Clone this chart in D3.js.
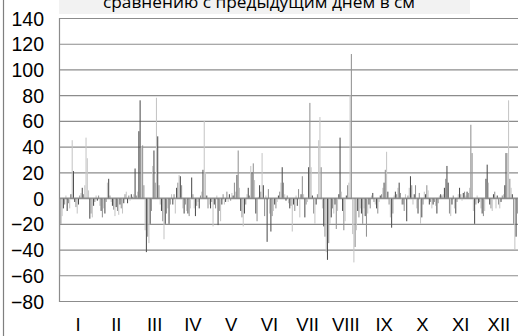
<!DOCTYPE html>
<html><head><meta charset="utf-8">
<script src="https://cdn.jsdelivr.net/npm/d3@7"></script>
<style>
html,body{margin:0;padding:0;background:#fff;}
svg{display:block;}
</style></head>
<body>
<svg id="chart" width="522" height="336"></svg>
<script>
// ---- data ----
const title = "сравнению с предыдущим днем в см";
const months = ["I","II","III","IV","V","VI","VII","VIII","IX","X","XI","XII"];
const yTicks = [-80,-60,-40,-20,0,20,40,60,80,100,120,140];

const jan = [-60,-20,-14,-8,-5,2,-10,-4,-8,3,45,21,-3,-7,-12,-5,2,4,8,3,10,47,31,6,-16,-12,-15,-6,-3,2,-2];
const feb = [2,-6,-10,-15,-8,-12,-3,12,15,2,-3,-6,-9,-14,-7,-10,-13,-5,-8,-12,-4,3,5,-4,2,-2,3,1];
const mar = [3,23,2,5,52,76,40,41,10,-25,-42,-30,-35,-20,-10,25,37,12,78,48,10,-5,-10,-18,-32,-20,-12,-8,-20,-5,3];
const apr = [-5,3,-12,8,12,18,17,10,-8,-12,-5,-10,-12,-14,-8,16,3,-8,-14,-6,-3,-8,2,5,22,60,20,2,-8,-5];
const may = [-8,-3,-22,-5,-8,2,-21,-10,-18,-5,3,-5,-3,5,-3,3,-2,4,2,12,5,18,37,8,-10,-15,-22,-12,-5,3,8];
const jun = [2,25,20,27,14,-12,-18,1,10,5,35,10,-14,2,-34,7,-12,-26,-14,-10,-5,-8,-3,2,5,12,24,12,3,-2];
const jul = [2,-4,-8,-6,-26,-5,-10,2,-6,7,-15,3,17,3,-15,-5,-3,24,74,24,2,-12,-20,-5,3,45,63,24,-8,-22,-30];
const aug = [-42,-48,-35,-20,-15,-8,-12,-5,-24,-10,3,47,5,-10,-25,-18,2,10,12,80,112,-28,-50,-38,-25,-10,-15,-8,-12,-20,-8];
const sep = [-14,-30,-12,-5,-8,2,4,-3,-5,-8,-12,-3,2,3,8,12,22,36,5,-5,-15,-23,-12,2,5,3,8,12,4,-5];
const oct = [-5,-10,3,-18,2,8,17,10,-5,3,10,-8,-12,4,-20,-15,-5,5,3,10,6,-5,-3,-8,-5,-3,-6,-12,-4,2,3];
const nov = [2,3,8,15,25,12,-12,-14,-5,2,-8,-12,-3,3,8,3,-2,4,5,2,5,4,8,57,35,-10,-20,-5,2,-4];
const dec = [-3,-8,-12,-14,-10,15,26,12,-5,-8,-10,3,5,-8,2,-5,-8,-3,2,3,10,35,35,76,15,8,3,-20,-40,-30,-12];

// bar shading (0 dark, 1 mid, 2 light) for the notable bars
const shadeOverrides = {0:1,10:2,11:0,21:2,22:2,63:0,64:0,65:2,66:1,69:0,76:1,77:2,78:0,83:2,115:2,
  199:1,206:2,207:2,213:0,223:0,231:2,232:1,234:2,260:2,308:0,327:1,340:0,355:0,357:2,362:2};

// ---- build ----
const values = [].concat(jan,feb,mar,apr,may,jun,jul,aug,sep,oct,nov,dec);
const days = values.map((v,i)=>({i, v}));
const shades = ["#4f4f4f","#939393","#c6c6c6"];

const svg = d3.select("#chart");
const W = 522, H = 336;
const pL = 59, pR = 518, pT = 18, pB = 301;

const x = d3.scaleBand().domain(d3.range(values.length)).range([pL, pR]).padding(0);
const xm = d3.scaleBand().domain(months).range([pL, pR]);
const y = d3.scaleLinear().domain([-80, 140]).range([pB, pT]);

// outer frame line on the left
svg.append("line").attr("x1",3.5).attr("x2",3.5).attr("y1",0).attr("y2",H)
  .attr("stroke","#7f7f7f").attr("stroke-width",1.2);

// title box (cut at top)
svg.append("rect").attr("x",pL).attr("y",0).attr("width",411).attr("height",14).attr("fill","#f2f2f2");
svg.append("text").attr("x",259).attr("y",8).attr("text-anchor","middle")
  .attr("font-family","Open Sans, Noto Sans, sans-serif").attr("font-size",17).attr("fill","#000")
  .attr("textLength",312).attr("lengthAdjust","spacingAndGlyphs")
  .text(title);

// y axis with gridlines
const yAxis = svg.append("g").attr("transform",`translate(${pL},0)`)
  .call(d3.axisLeft(y).tickValues(yTicks).tickSize(-(pR-pL)).tickPadding(15));
yAxis.select(".domain").attr("stroke","#8c8c8c").attr("stroke-width",1.2);
yAxis.selectAll(".tick line").attr("stroke","#8c8c8c").attr("stroke-width",1.2);
yAxis.selectAll(".tick text").attr("font-family","Liberation Sans, Arial, sans-serif")
  .attr("font-size",19.5).attr("fill","#000").attr("dy","0.36em");

// bars
svg.append("g").selectAll("rect").data(days).join("rect")
  .attr("x", d => x(d.i) + 0.1)
  .attr("width", 1.05)
  .attr("y", d => y(Math.max(0, d.v)))
  .attr("height", d => Math.abs(y(d.v) - y(0)))
  .attr("fill", d => shades[shadeOverrides[d.i] !== undefined ? shadeOverrides[d.i] : (d.i % 3)]);

// zero line over bars
svg.append("line").attr("x1",pL).attr("x2",pR).attr("y1",y(0)).attr("y2",y(0))
  .attr("stroke","#8c8c8c").attr("stroke-width",1.2);

// month axis
const xAxis = svg.append("g").attr("transform",`translate(0,${pB})`)
  .call(d3.axisBottom(xm).tickSize(0).tickPadding(17));
xAxis.select(".domain").remove();
xAxis.selectAll(".tick text").attr("font-family","Liberation Sans, Arial, sans-serif")
  .attr("font-size",18.5).attr("fill","#000");
</script>
</body></html>
